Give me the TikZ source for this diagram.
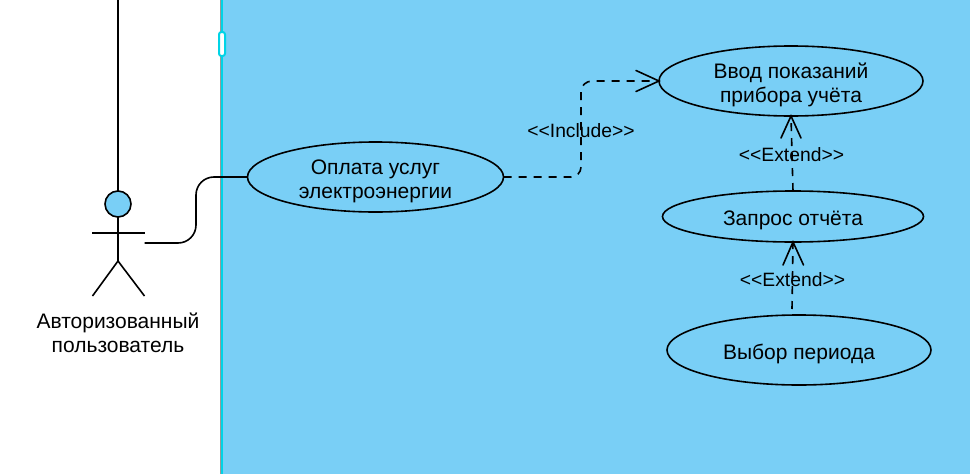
\documentclass[tikz,border=0pt]{standalone}
\usepackage{fontspec}
\setmainfont{Liberation Sans}
\usetikzlibrary{shapes.geometric}
\definecolor{panel}{HTML}{79CFF6}
\definecolor{edgecyan}{HTML}{00D4E6}
\tikzset{
 x=1pt,y=-1pt,
 every node/.style={inner sep=0pt,outer sep=0pt},
 usecase/.style={draw=black,line width=1.6pt,ellipse,fill=panel},
 casetext/.style={align=center,font=\fontsize{21}{24.2}\selectfont,yshift=-4pt},
 lbl/.style={font=\fontsize{19.3}{23}\selectfont,align=center},
 line/.style={draw=black,line width=1.6pt},
 dash line/.style={line,dash pattern=on 8pt off 7pt},
 openhead/.style={line,line cap=round},
}
\begin{document}
\begin{tikzpicture}
\useasboundingbox (0,0) rectangle (970,474);
\fill[white] (0,0) rectangle (970,474);
\fill[panel] (221,0) rectangle (970,474);
\fill[black!40] (219.5,0) rectangle (221,474);
\fill[edgecyan] (221,0) rectangle (222.5,474);
\node[draw=edgecyan,fill=white,line width=2pt,rounded corners=2.5pt,minimum width=6pt,minimum height=24pt] (handle) at (222,44) {};
% actor
\node[line,circle,fill=panel,minimum size=26pt] (head) at (118,204) {};
\coordinate (top) at (118,0);
\coordinate (hip) at (118,261);
\coordinate (armL) at (92,233);
\coordinate (armR) at (144.5,233);
\coordinate (footL) at (92.5,296);
\coordinate (footR) at (144.5,296);
\draw[line] (top) -- (head.north);
\draw[line] (head.south) -- (hip);
\draw[line] (armL) -- (armR);
\draw[line] (footL) -- (hip) -- (footR);
\node[align=center,font=\fontsize{21}{24.2}\selectfont] (actorlbl) at (118,333) {Авторизованный\\пользователь};
% use cases
\node[usecase,minimum width=256pt,minimum height=70pt,label={[casetext]center:Оплата услуг\\электроэнергии}] (pay) at (375.5,177) {};
\node[usecase,minimum width=264pt,minimum height=70pt,label={[casetext]center:Ввод показаний\\прибора учёта}] (input) at (791,81) {};
\node[usecase,minimum width=261pt,minimum height=51pt,label={[casetext]center:Запрос отчёта}] (report) at (793,216.5) {};
\node[usecase,minimum width=264pt,minimum height=70pt,label={[casetext]center:Выбор периода}] (period) at (799,350) {};
% connectors
\coordinate (start) at (144.5,243);
\draw[line] (start) -- (178,243) .. controls (188,243) and (196,235) .. (196,225) -- (196,195) .. controls (196,185) and (204,177) .. (214,177) -- (pay.west);
\draw[dash line] (pay.east) -- (571,177) .. controls (576.5,177) and (581,172.5) .. (581,167) -- (581,91) .. controls (581,85.5) and (586.5,81) .. (592,81) -- (input.west);
\draw[openhead] (636,70.5) -- (input.west) -- (636,91.5);
\draw[dash line] (report.north) -- (input.south);
\draw[openhead] (781,138) -- (input.south) -- (801,138);
\coordinate (periodTop) at (792,309);
\draw[dash line] (periodTop) -- (report.south);
\draw[openhead] (783,265) -- (report.south) -- (803.5,265);
% labels
\node[lbl] (inc) at (581,131) {<{}<Include>{}>};
\node[lbl] (ext1) at (791.5,155) {<{}<Extend>{}>};
\node[lbl] (ext2) at (792.5,280) {<{}<Extend>{}>};
\end{tikzpicture}
\end{document}
